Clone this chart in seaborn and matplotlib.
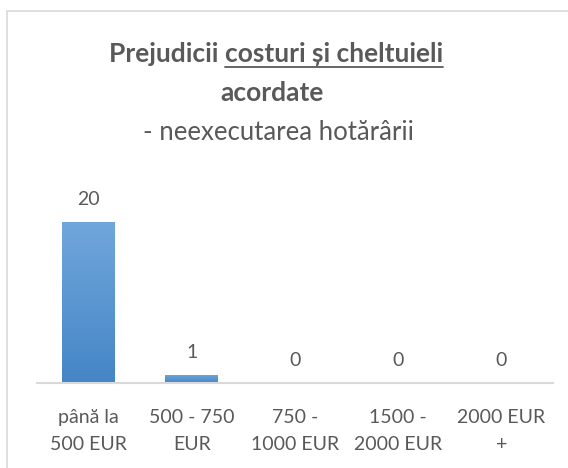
import matplotlib
matplotlib.use("Agg")
import matplotlib.pyplot as plt
import matplotlib.patches as mpatches
from matplotlib.lines import Line2D
from matplotlib.colors import LinearSegmentedColormap
import numpy as np
import pandas as pd
import seaborn as sns

categories = ["până la\n500 EUR", "500 - 750\nEUR", "750 -\n1000 EUR", "1500 -\n2000 EUR", "2000 EUR\n+"]
values = [20, 1, 0, 0, 0]

title_plain = "Prejudicii "
title_underlined = "costuri și cheltuieli"
title_line2 = "acordate"
subtitle = "- neexecutarea hotărârii"

sns.set_theme(style="white")
plt.rcParams['font.family'] = ['Lato', 'DejaVu Sans']
text_color = "#595959"

df = pd.DataFrame({"cat": categories, "val": values})

fig = plt.figure(figsize=(5.68, 4.68), dpi=100)
W, H = 568, 468
ax = fig.add_axes([37 / W, (H - 383) / H, (553 - 37) / W, (383 - 180) / H])

sns.barplot(data=df, x="cat", y="val", color="#5a96d4", width=0.51, ax=ax, saturation=1)

# vertical gradient on the bars
cmap = LinearSegmentedColormap.from_list("bar", ["#4585c6", "#70a7dc"])
grad = np.linspace(0, 1, 256).reshape(-1, 1)
for p in ax.patches:
    x0, y0 = p.get_x(), p.get_y()
    w, h = p.get_width(), p.get_height()
    if h <= 0:
        continue
    im = ax.imshow(grad, extent=[x0, x0 + w, y0, y0 + h], origin="lower",
                   cmap=cmap, aspect="auto", zorder=p.get_zorder() + 0.1)
    im.set_clip_path(p)
ax.set_xlim(-0.5, 4.5)
ax.set_ylim(0, 20 * (383 - 180) / 161)

for i, v in enumerate(values):
    ax.annotate(str(v), (i, v), xytext=(0, 10), textcoords="offset points",
                ha="center", va="bottom", fontsize=14, color=text_color)

for s in ["top", "right", "left"]:
    ax.spines[s].set_visible(False)
ax.spines["bottom"].set_color("#d9d9d9")
ax.spines["bottom"].set_linewidth(1.5)
ax.set_yticks([])
ax.set_xlabel("")
ax.set_ylabel("")
ax.tick_params(axis="x", length=0, pad=19, labelsize=14, labelcolor=text_color)
for lab in ax.get_xticklabels():
    lab.set_linespacing(1.72)

# chart border
fig.patches.append(mpatches.Rectangle((7 / W, -0.1), 1.2, (H - 11) / H + 0.1,
                                      transform=fig.transFigure, fill=False,
                                      edgecolor="#d9d9d9", linewidth=1.2))

# title with underlined part
fig.canvas.draw()
r = fig.canvas.get_renderer()
cx = 276 / W
y1 = (H - 62) / H
t1 = fig.text(0, y1, title_plain, fontsize=19, fontweight="bold", color=text_color, va="baseline")
t2 = fig.text(0, y1, title_underlined, fontsize=19, fontweight="bold", color=text_color, va="baseline")
w1 = t1.get_window_extent(r).width / W
w2 = t2.get_window_extent(r).width / W
start = cx - (w1 + w2) / 2
t1.set_x(start)
t2.set_x(start + w1)
uy = (H - 66.5) / H
fig.lines.append(Line2D([start + w1, start + w1 + w2], [uy, uy], transform=fig.transFigure,
                        color=text_color, linewidth=1.3))
fig.text(272 / W, (H - 101) / H, title_line2, fontsize=19, fontweight="bold", color=text_color,
         ha="center", va="baseline")
fig.text(278 / W, (H - 140) / H, subtitle, fontsize=18.5, color=text_color,
         ha="center", va="baseline")

fig.savefig("out.png", dpi=100)
